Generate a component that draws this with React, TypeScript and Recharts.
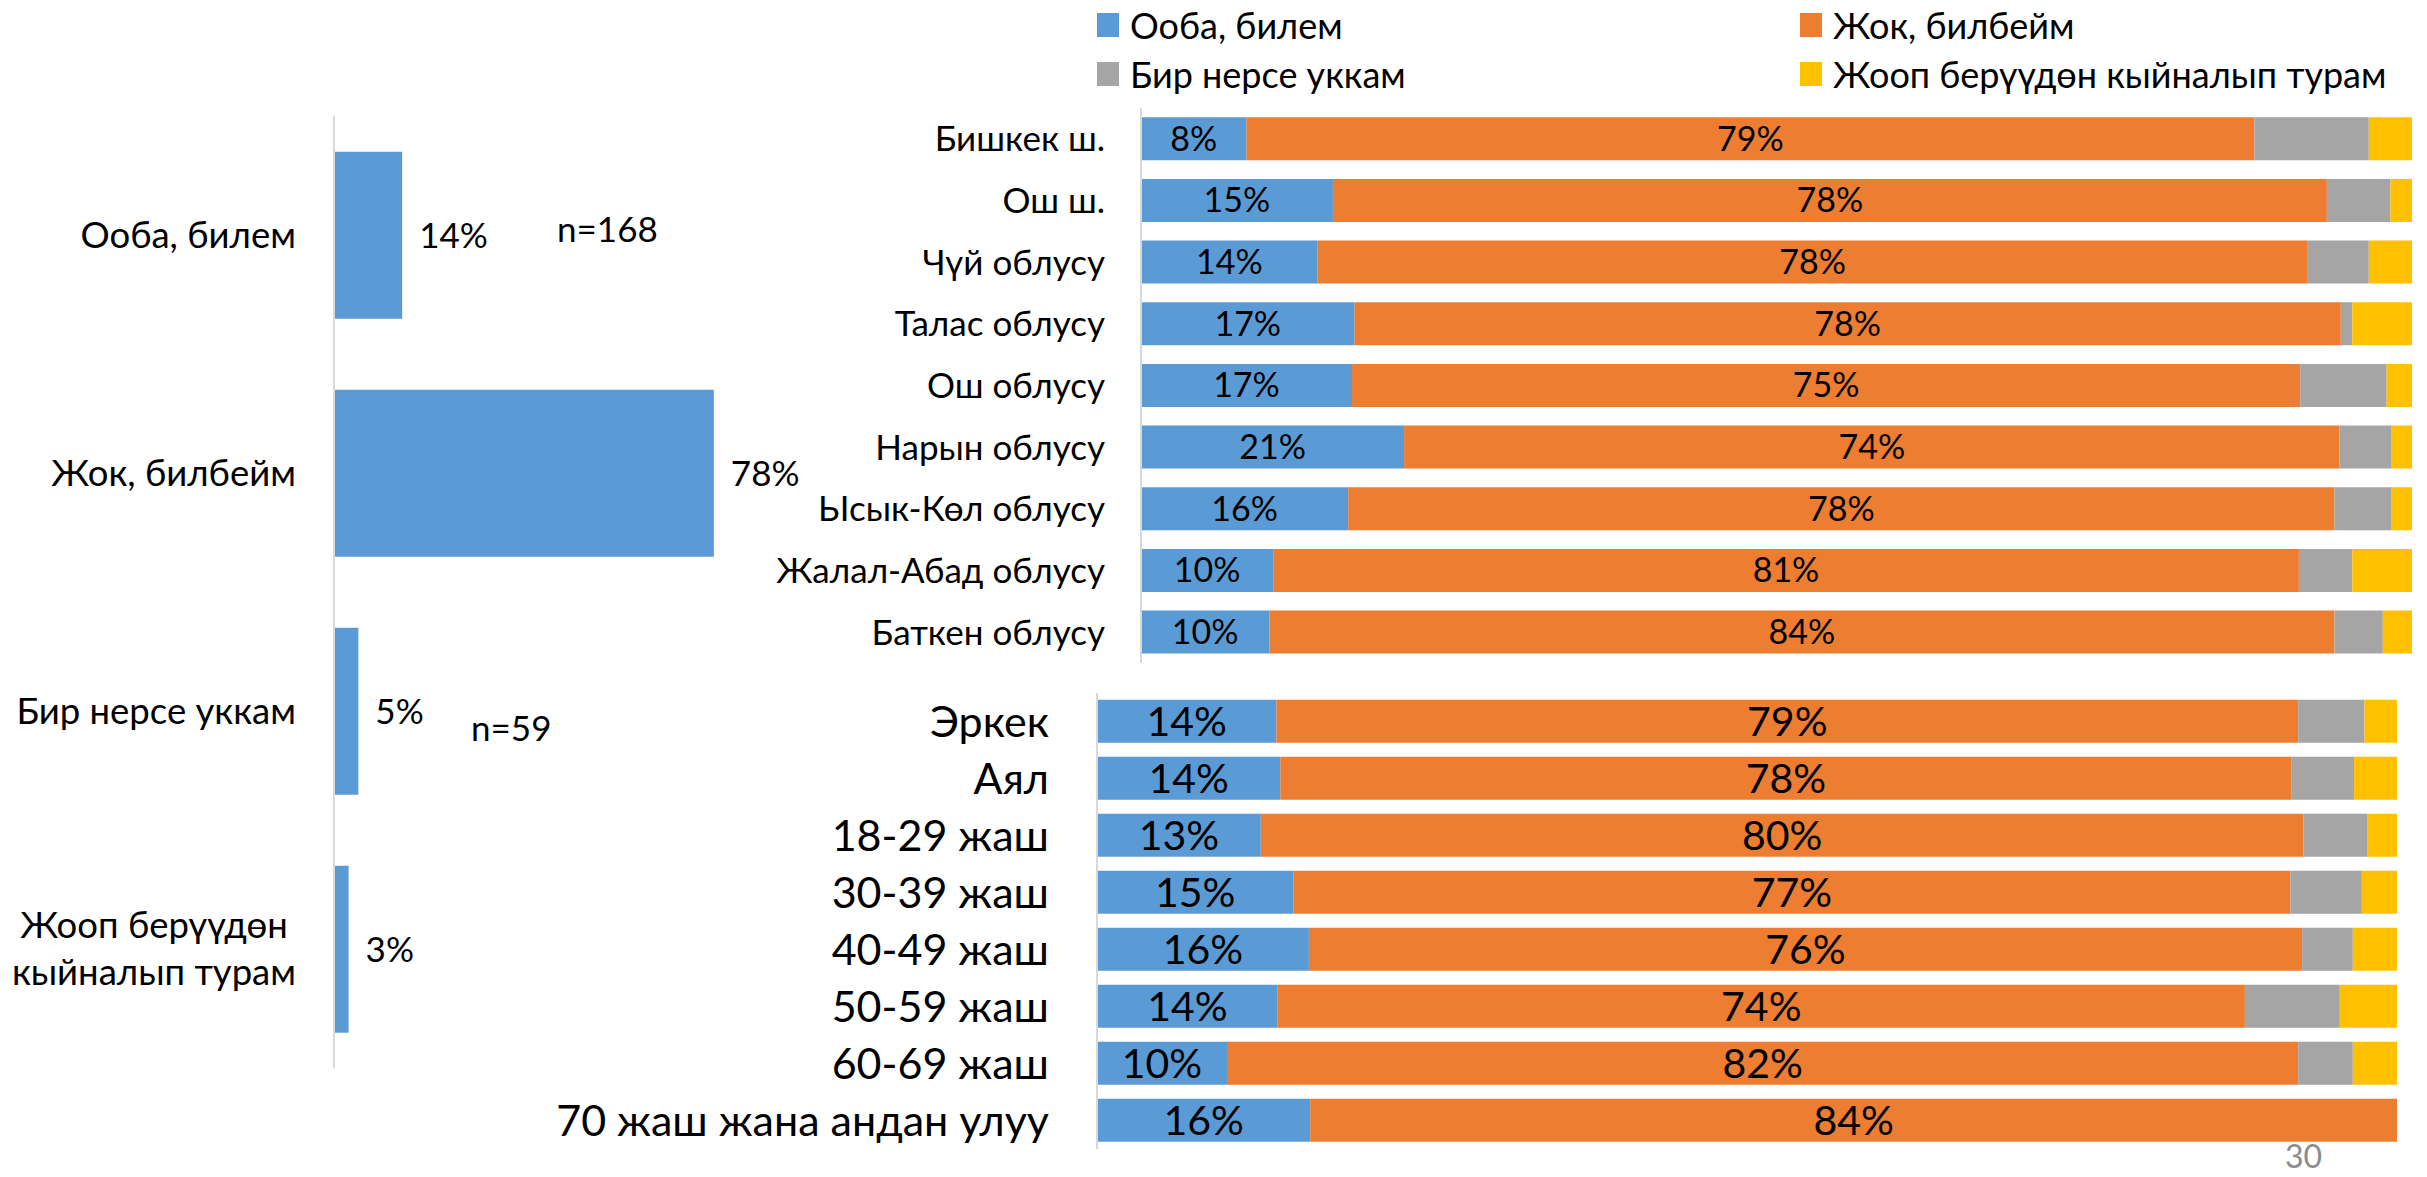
import { BarChart, Bar, XAxis, YAxis, LabelList } from "recharts";

const FONT = "Lato, 'Noto Sans', 'DejaVu Sans', sans-serif";

// left chart: overall answers
const answerLabels = ["Ооба, билем", "Жок, билбейм", "Бир нерсе уккам", "Жооп берүүдөн кыйналып турам"];
const answerShares = [14, 78, 5, 3];

// stacked series names + colours
const seriesNames = ["Ооба, билем", "Жок, билбейм", "Бир нерсе уккам", "Жооп берүүдөн кыйналып турам"];
const seriesKeys = ["yes", "no", "heard", "hard"];
const seriesColors = ["#5B9BD5", "#ED7D31", "#A5A5A5", "#FFC000"];

// regions
const regions = ["Бишкек ш.", "Ош ш.", "Чүй облусу", "Талас облусу", "Ош облусу", "Нарын облусу", "Ысык-Көл облусу", "Жалал-Абад облусу", "Баткен облусу"];
const regionYes = [8.3, 15.1, 13.9, 16.8, 16.6, 20.7, 16.3, 10.4, 10.1];
const regionNo = [79.3, 78.2, 77.9, 77.6, 74.6, 73.6, 77.6, 80.7, 83.8];
const regionHeard = [9.0, 5.0, 4.8, 0.9, 6.8, 4.1, 4.5, 4.2, 3.8];
const regionHard = [3.4, 1.7, 3.4, 4.7, 2.0, 1.6, 1.6, 4.7, 2.3];

// gender / age
const groups = ["Эркек", "Аял", "18-29 жаш", "30-39 жаш", "40-49 жаш", "50-59 жаш", "60-69 жаш", "70 жаш жана андан улуу"];
const groupYes = [13.8, 14.1, 12.6, 15.1, 16.3, 13.9, 10.0, 16.4];
const groupNo = [78.6, 77.8, 80.2, 76.7, 76.4, 74.4, 82.4, 83.6];
const groupHeard = [5.1, 4.8, 4.9, 5.5, 3.9, 7.3, 4.2, 0];
const groupHard = [2.5, 3.3, 2.3, 2.7, 3.4, 4.4, 3.4, 0];

const answerData = answerLabels.map((name, i) => ({ name, value: answerShares[i] }));
const regionData = regions.map((name, i) => ({
  name, yes: regionYes[i], no: regionNo[i], heard: regionHeard[i], hard: regionHard[i],
}));
const groupData = groups.map((name, i) => ({
  name, yes: groupYes[i], no: groupNo[i], heard: groupHeard[i], hard: groupHard[i],
}));

const pct = (v: any) => (v ? Math.round(Number(v)) + "%" : "");

let ctx: CanvasRenderingContext2D | null = null;
function textWidth(s: string, size: number) {
  if (!ctx) ctx = document.createElement("canvas").getContext("2d");
  if (!ctx) return s.length * size * 0.5;
  ctx.font = `${size}px ${FONT}`;
  return ctx.measureText(s).width;
}

const LEFT_FS = 36.5;

// wraps long labels into two centred lines, like Excel does
function WrapTick(props: any) {
  const { x, y, payload } = props;
  const label: string = payload.value;
  if (textWidth(label, LEFT_FS) < 300) {
    return (
      <text x={x} y={y} dy="0.35em" textAnchor="end" fontSize={LEFT_FS} fill="#000">
        {label}
      </text>
    );
  }
  const words = label.split(" ");
  const half = Math.ceil(words.length / 2);
  const lines = [words.slice(0, half).join(" "), words.slice(half).join(" ")];
  const w = Math.max(...lines.map((l) => textWidth(l, LEFT_FS)));
  const cx = x - w / 2;
  const lh = 47;
  return (
    <text x={cx} y={y} textAnchor="middle" fontSize={LEFT_FS} fill="#000">
      {lines.map((l, i) => (
        <tspan key={i} x={cx} y={y + (i - (lines.length - 1) / 2) * lh} dy="0.35em">
          {l}
        </tspan>
      ))}
    </text>
  );
}

function StackedChart({ data, left, top, width, height, margin, axisWidth, tickGap, catGap, tickSize, labelSize }: any) {
  return (
    <div style={{ position: "absolute", left, top }}>
      <BarChart
        width={width}
        height={height}
        data={data}
        layout="vertical"
        margin={margin}
        barCategoryGap={catGap}
      >
        <XAxis type="number" domain={[0, 100]} hide />
        <YAxis
          type="category"
          dataKey="name"
          width={axisWidth}
          axisLine={{ stroke: "#D9D9D9", strokeWidth: 2 }}
          tickLine={false}
          tickSize={0}
          tickMargin={tickGap}
          interval={0}
          tick={{ fontSize: tickSize, fill: "#000" }}
        />
        {seriesKeys.map((k, i) => (
          <Bar key={k} dataKey={k} stackId="s" fill={seriesColors[i]} isAnimationActive={false}>
            {i < 2 && (
              <LabelList dataKey={k} position="center" formatter={pct} fontSize={labelSize} fill="#000" />
            )}
          </Bar>
        ))}
      </BarChart>
    </div>
  );
}

export default function App() {
  return (
    <div
      style={{
        position: "absolute",
        left: 0,
        top: 0,
        width: 2427,
        height: 1177,
        background: "#fff",
        overflow: "hidden",
        fontFamily: FONT,
        color: "#000",
      }}
    >
      {/* overall answers */}
      <div style={{ position: "absolute", left: 0, top: 0 }}>
        <BarChart
          width={841}
          height={1177}
          data={answerData}
          layout="vertical"
          margin={{ top: 116, right: 20, bottom: 109, left: 0 }}
          barCategoryGap="15%"
        >
          <XAxis type="number" domain={[0, 100]} hide />
          <YAxis
            type="category"
            dataKey="name"
            width={334}
            axisLine={{ stroke: "#D9D9D9", strokeWidth: 2 }}
            tickLine={false}
            tickSize={0}
            tickMargin={38}
            interval={0}
            tick={<WrapTick />}
          />
          <Bar dataKey="value" fill="#5B9BD5" isAnimationActive={false}>
            <LabelList dataKey="value" position="right" offset={17} formatter={pct} fontSize={35} fill="#000" />
          </Bar>
        </BarChart>
      </div>
      <div style={{ position: "absolute", left: 557, top: 207, fontSize: 35 }}>n=168</div>
      <div style={{ position: "absolute", left: 471, top: 706, fontSize: 35 }}>n=59</div>

      {/* legend */}
      <div
        style={{
          position: "absolute",
          left: 1097,
          top: 3,
          display: "grid",
          gridTemplateColumns: "703px 620px",
          rowGap: 6,
          fontSize: 36,
        }}
      >
        {seriesNames.map((name, i) => (
          <div key={name} style={{ display: "flex", alignItems: "center", height: 43 }}>
            <span style={{ width: 22, height: 24, background: seriesColors[i], marginRight: 11 }} />
            <span>{name}</span>
          </div>
        ))}
      </div>

      <StackedChart
        data={regionData}
        left={760}
        top={0}
        width={1667}
        height={680}
        margin={{ top: 108, right: 15, bottom: 17, left: 0 }}
        axisWidth={381}
        tickGap={36}
        catGap="15%"
        tickSize={35}
        labelSize={34}
      />

      <StackedChart
        data={groupData}
        left={500}
        top={680}
        width={1927}
        height={497}
        margin={{ top: 13, right: 30, bottom: 28, left: 0 }}
        axisWidth={597}
        tickGap={48}
        catGap="12%"
        tickSize={43}
        labelSize={41}
      />

      <div style={{ position: "absolute", left: 2285, top: 1136, fontSize: 32, color: "#8C8C8C" }}>30</div>
    </div>
  );
}
